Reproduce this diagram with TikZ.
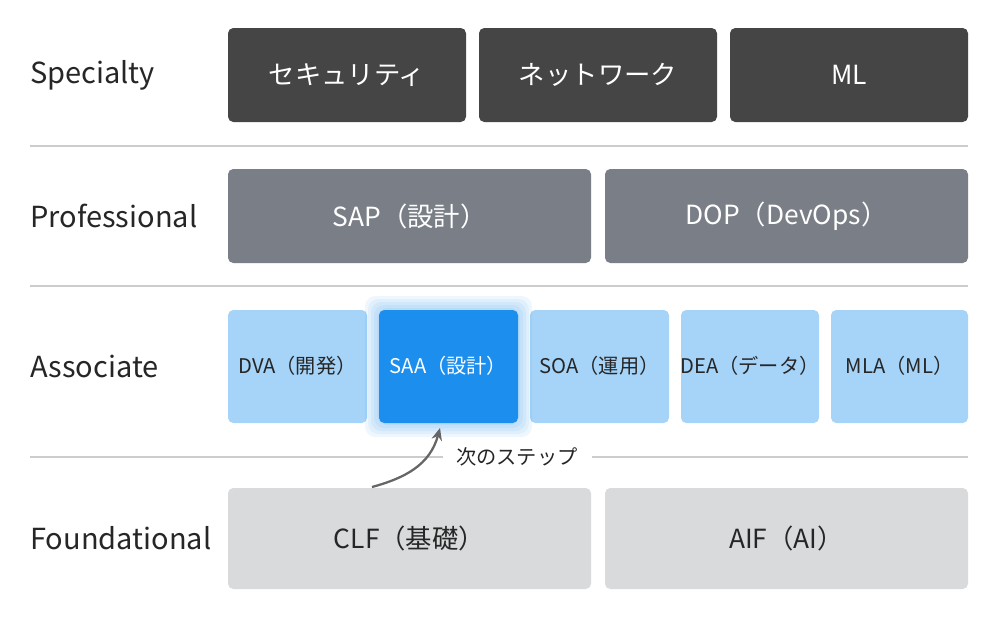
\documentclass[tikz,border=0pt]{standalone}
\usepackage{fontspec}
\setmainfont{Noto Sans CJK JP}
\usetikzlibrary{arrows.meta}
\definecolor{spec}{HTML}{454545}
\definecolor{prof}{HTML}{7A7E87}
\definecolor{assoc}{HTML}{A6D3F8}
\definecolor{saa}{HTML}{1C8EEE}
\definecolor{fnd}{HTML}{D9DADC}
\definecolor{sep}{HTML}{CCCCCC}
\begin{document}
\begin{tikzpicture}[x=0.02cm,y=-0.02cm,
 lbl/.style={anchor=west,inner sep=0pt,font=\fontsize{16.5}{16.5}\selectfont,text=black!85},
 big/.style={font=\fontsize{15}{15}\selectfont},
 small/.style={font=\fontsize{11.5}{11.5}\selectfont}]
\useasboundingbox (0,0) rectangle (1000,622);
\fill[white] (0,0) rectangle (1000,622);
% separators
\draw[sep,line width=0.6pt] (30,146) -- (968,146);
\draw[sep,line width=0.6pt] (30,286) -- (968,286);
\draw[sep,line width=0.6pt] (30,457) -- (443,457);
\draw[sep,line width=0.6pt] (592,457) -- (968,457);
% labels
\node[lbl] (l1) at (30,75) {Specialty};
\node[lbl] (l2) at (30,216) {Professional};
\node[lbl] (l3) at (30,366) {Associate};
\node[lbl] (l4) at (30,538) {Foundational};
% specialty
\foreach \n/\a/\b/\t in {s1/228/466/セキュリティ,s2/479/717/ネットワーク,s3/730/968/ML}{
 \fill[spec,rounded corners=3pt] (\a,28) rectangle (\b,122);
 \node[big,text=white] (\n) at ({(\a+\b)/2},75) {\t};}
% professional
\foreach \n/\a/\b/\t in {p1/228/591/SAP（設計）,p2/605/968/DOP（DevOps）}{
 \fill[prof,rounded corners=3pt] (\a,169) rectangle (\b,263);
 \node[big,text=white] (\n) at ({(\a+\b)/2},216) {\t};}
% associate
\foreach \n/\a/\b/\t in {a1/228/367/DVA（開発）,a3/530/669/SOA（運用）,a4/681/819/DEA（データ）,a5/831/968/MLA（ML）}{
 \fill[assoc,rounded corners=3pt] (\a,310) rectangle (\b,423);
 \node[small,text=black!85] (\n) at ({(\a+\b)/2},366) {\t};}
\foreach \g in {14,11,8,5,2}{
 \fill[saa,opacity=0.07,rounded corners=6pt] (379-\g,310-\g) rectangle (518+\g,423+\g);}
\fill[saa,rounded corners=3pt] (379,310) rectangle (518,423);
\node[small,text=white] (a2) at (448.5,366) {SAA（設計）};
% foundational
\foreach \n/\a/\b/\t in {f1/228/591/CLF（基礎）,f2/605/968/AIF（AI）}{
 \fill[fnd,rounded corners=3pt] (\a,488) rectangle (\b,589);
 \node[big,text=black!85] (\n) at ({(\a+\b)/2},538) {\t};}
% arrow
\coordinate (st) at (372,487);
\coordinate (en) at (440,428);
\draw[black!60,line width=1.3pt,-{Stealth[length=7pt,width=6pt]}] (st) .. controls (405,478) and (430,465) .. (en);
\node[small,text=black!85,anchor=west] (nx) at (450,457) {次のステップ};
\end{tikzpicture}
\end{document}
